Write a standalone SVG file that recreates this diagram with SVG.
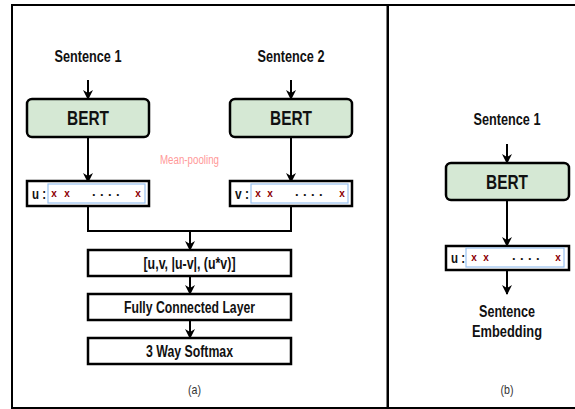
<svg xmlns="http://www.w3.org/2000/svg" width="575" height="409" viewBox="0 0 575 409">
  <defs>
    <marker id="arrow" viewBox="0 0 10 10" refX="9" refY="5" markerWidth="10" markerHeight="10" markerUnits="userSpaceOnUse" orient="auto">
      <path d="M0,0 L10,5 L0,10 L3,5 Z" fill="#000"/>
    </marker>
  </defs>
  <style>
    text { font-family: "Liberation Sans", Arial, sans-serif; }
    .frame { fill: #fff; stroke: #000; stroke-width: 2; }
    .bert { fill: #d5e8d4; stroke: #000; stroke-width: 2.5; }
    .box { fill: #fff; stroke: #000; stroke-width: 2.5; }
    .inner { fill: #fff; stroke: #99c2f0; stroke-width: 1.2; }
    .label { font-size: 17px; font-weight: bold; text-anchor: middle; fill: #111; }
    .bertlabel { font-size: 20px; font-weight: bold; text-anchor: middle; fill: #111; }
    .boxlabel { font-size: 16px; font-weight: bold; text-anchor: middle; fill: #111; }
    .vec { font-size: 15px; font-weight: bold; fill: #111; }
    .x { font-size: 10px; font-weight: bold; fill: #8b0000; text-anchor: middle; }
    .dots { font-size: 13px; font-weight: bold; fill: #111; letter-spacing: 4.4px; }
    .cap { font-size: 13px; text-anchor: middle; fill: #333; }
    .conn { fill: none; stroke: #000; stroke-width: 2; }
  </style>

  <!-- panel frames -->
  <rect class="frame" x="12" y="5" width="375.5" height="403"/>
  <rect class="frame" x="388" y="5" width="200" height="403"/>

  <!-- connectors -->
  <g id="connectors">
    <line class="conn" x1="88" y1="80" x2="88" y2="99" marker-end="url(#arrow)"/>
    <line class="conn" x1="291" y1="80" x2="291" y2="99" marker-end="url(#arrow)"/>
    <line class="conn" x1="88" y1="137" x2="88" y2="182" marker-end="url(#arrow)"/>
    <line class="conn" x1="291" y1="137" x2="291" y2="182" marker-end="url(#arrow)"/>
    <polyline class="conn" points="88,206 88,231 291,231 291,206"/>
    <line class="conn" x1="190" y1="231" x2="190" y2="250" marker-end="url(#arrow)"/>
    <line class="conn" x1="190" y1="276" x2="190" y2="294" marker-end="url(#arrow)"/>
    <line class="conn" x1="190" y1="320" x2="190" y2="338" marker-end="url(#arrow)"/>
    <line class="conn" x1="507" y1="144" x2="507" y2="163" marker-end="url(#arrow)"/>
    <line class="conn" x1="507" y1="200" x2="507" y2="246" marker-end="url(#arrow)"/>
    <line class="conn" x1="507" y1="270" x2="507" y2="294" marker-end="url(#arrow)"/>
  </g>

  <!-- panel (a) -->
  <g id="sentence1-a"><text class="label" x="88" y="62" textLength="67" lengthAdjust="spacingAndGlyphs">Sentence 1</text></g>
  <g id="sentence2-a"><text class="label" x="291" y="62" textLength="67" lengthAdjust="spacingAndGlyphs">Sentence 2</text></g>

  <g id="bert1-a">
    <rect class="bert" x="27" y="99" width="122" height="38" rx="5"/>
    <text class="bertlabel" x="88" y="125" textLength="42" lengthAdjust="spacingAndGlyphs">BERT</text>
  </g>
  <g id="bert2-a">
    <rect class="bert" x="230" y="99" width="122" height="38" rx="5"/>
    <text class="bertlabel" x="291" y="125" textLength="42" lengthAdjust="spacingAndGlyphs">BERT</text>
  </g>

  <g id="pooling-label"><text x="189.5" y="164" font-size="12" fill="#ff9999" text-anchor="middle" textLength="59" lengthAdjust="spacingAndGlyphs">Mean-pooling</text></g>

  <g id="u-a">
    <rect class="box" x="27" y="181" width="122" height="25"/>
    <rect class="inner" x="48" y="184" width="97" height="19"/>
    <text class="vec" x="32" y="199" textLength="14" lengthAdjust="spacingAndGlyphs">u :</text>
    <text class="x" x="54" y="197">x</text>
    <text class="x" x="67" y="197">x</text>
    <text class="dots" x="92" y="196">....</text>
    <text class="x" x="138" y="197">x</text>
  </g>
  <g id="v-a">
    <rect class="box" x="230" y="181" width="122" height="25"/>
    <rect class="inner" x="251" y="184" width="97" height="19"/>
    <text class="vec" x="235" y="199" textLength="14" lengthAdjust="spacingAndGlyphs">v :</text>
    <text class="x" x="258" y="197">x</text>
    <text class="x" x="270" y="197">x</text>
    <text class="dots" x="295" y="196">....</text>
    <text class="x" x="342" y="197">x</text>
  </g>

  <g id="concat">
    <rect class="box" x="88" y="250" width="203" height="26"/>
    <text class="boxlabel" x="189.5" y="269" textLength="92" lengthAdjust="spacingAndGlyphs">[u,v, |u-v|, (u*v)]</text>
  </g>
  <g id="fc">
    <rect class="box" x="88" y="294" width="203" height="26"/>
    <text class="boxlabel" x="189.5" y="313" textLength="131" lengthAdjust="spacingAndGlyphs">Fully Connected Layer</text>
  </g>
  <g id="softmax">
    <rect class="box" x="88" y="338" width="203" height="26"/>
    <text class="boxlabel" x="189.5" y="357" textLength="87" lengthAdjust="spacingAndGlyphs">3 Way Softmax</text>
  </g>

  <g id="caption-a"><text class="cap" x="194.5" y="394" textLength="13" lengthAdjust="spacingAndGlyphs">(a)</text></g>

  <!-- panel (b) -->
  <g id="sentence1-b"><text class="label" x="507" y="125" textLength="67" lengthAdjust="spacingAndGlyphs">Sentence 1</text></g>
  <g id="bert-b">
    <rect class="bert" x="446" y="163" width="123" height="37" rx="5"/>
    <text class="bertlabel" x="507" y="189" textLength="42" lengthAdjust="spacingAndGlyphs">BERT</text>
  </g>
  <g id="u-b">
    <rect class="box" x="446" y="246" width="123" height="24"/>
    <rect class="inner" x="466" y="248" width="98" height="19"/>
    <text class="vec" x="451" y="263" textLength="14" lengthAdjust="spacingAndGlyphs">u :</text>
    <text class="x" x="474" y="261">x</text>
    <text class="x" x="486" y="261">x</text>
    <text class="dots" x="512" y="260">....</text>
    <text class="x" x="558" y="261">x</text>
  </g>
  <g id="embedding-b">
    <text class="label" x="507" y="317" textLength="56" lengthAdjust="spacingAndGlyphs">Sentence</text>
    <text class="label" x="507" y="337" textLength="70" lengthAdjust="spacingAndGlyphs">Embedding</text>
  </g>
  <g id="caption-b"><text class="cap" x="507" y="394" textLength="13" lengthAdjust="spacingAndGlyphs">(b)</text></g>
</svg>
